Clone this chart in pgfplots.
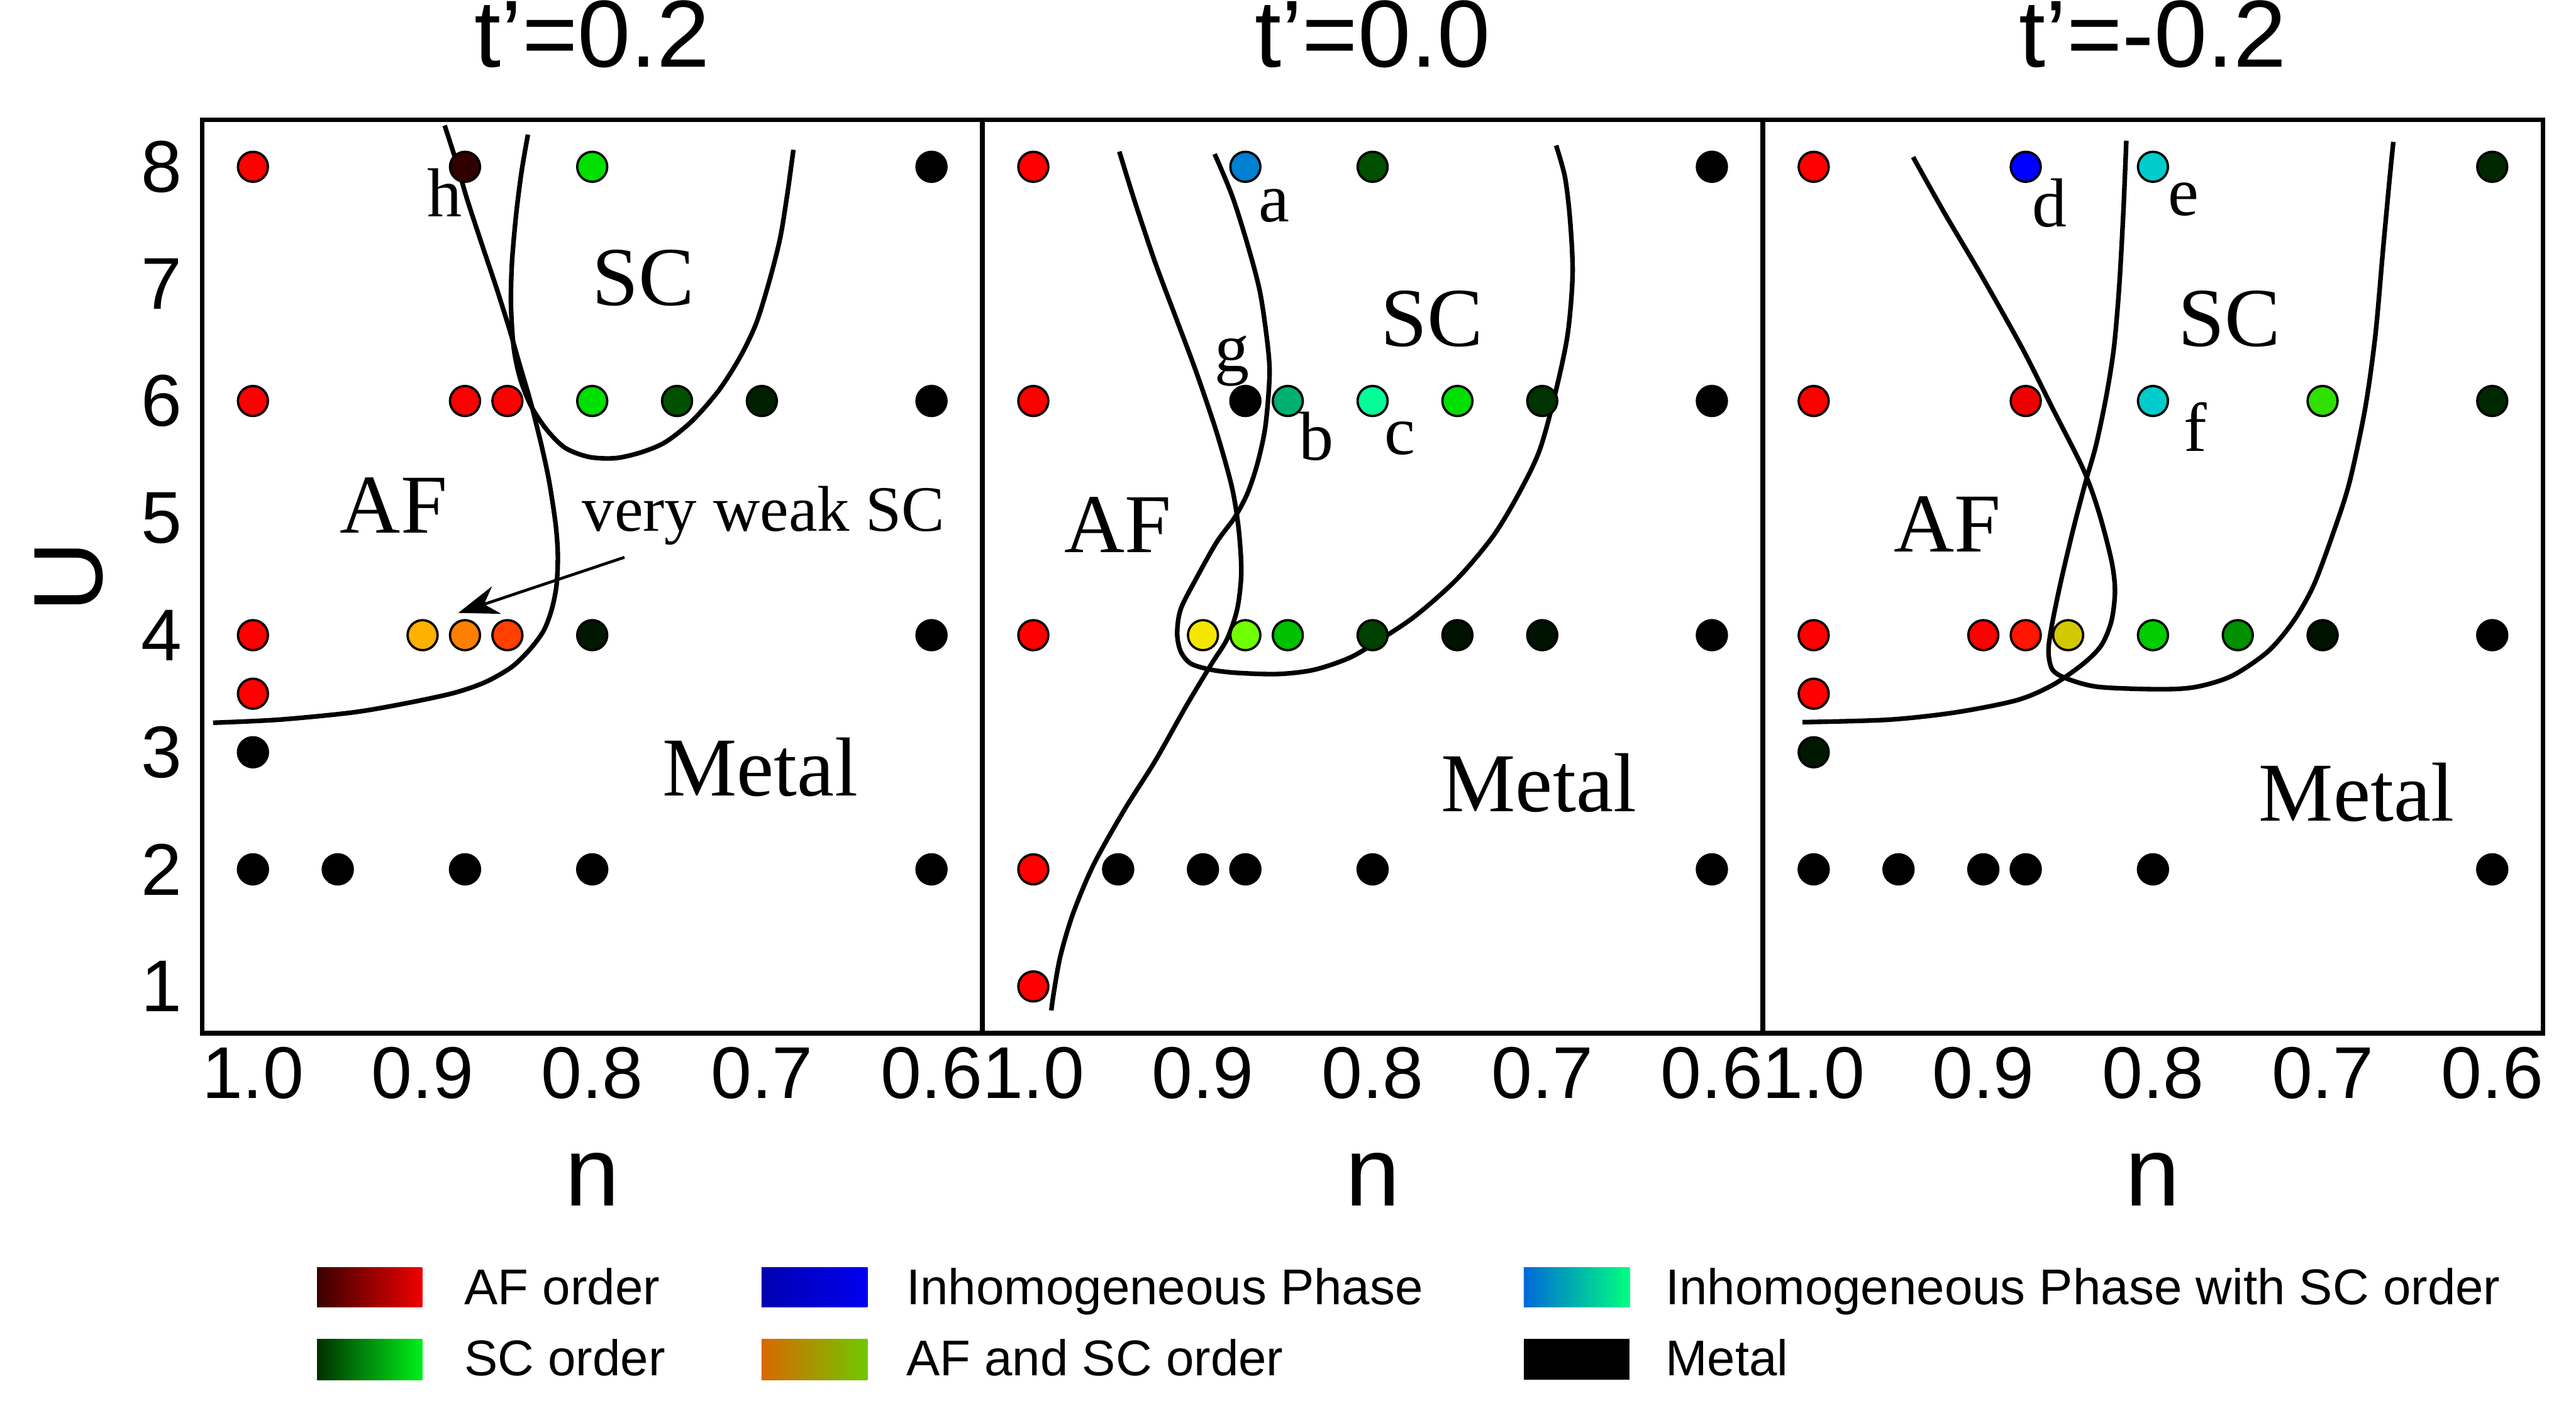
\documentclass[border=0pt]{standalone}
\usepackage{fontspec}
\setmainfont{Liberation Sans}
\newfontfamily\serifface{Liberation Serif}
\usepackage{pgfplots}
\pgfplotsset{compat=1.18}
\usetikzlibrary{arrows.meta}

% marker colours
\definecolor{cR}{HTML}{FF0000}
\definecolor{cR2}{HTML}{EE0000}
\definecolor{cRs}{HTML}{FF1500}
\definecolor{cH}{HTML}{300000}
\definecolor{cG}{HTML}{00E000}
\definecolor{cG2}{HTML}{005000}
\definecolor{cG3}{HTML}{002000}
\definecolor{cG4}{HTML}{001800}
\definecolor{cY1}{HTML}{FFB000}
\definecolor{cO1}{HTML}{FF8000}
\definecolor{cO2}{HTML}{FF4000}
\definecolor{cB1}{HTML}{0080D0}
\definecolor{cT1}{HTML}{00B070}
\definecolor{cSG}{HTML}{00FF99}
\definecolor{cY2}{HTML}{F5E600}
\definecolor{cYG}{HTML}{70FF00}
\definecolor{cG5}{HTML}{00C000}
\definecolor{cG6}{HTML}{003300}
\definecolor{cG7}{HTML}{004000}
\definecolor{cK1}{HTML}{001200}
\definecolor{cBL}{HTML}{0000FF}
\definecolor{cCY}{HTML}{00CCCC}
\definecolor{cDG}{HTML}{002800}
\definecolor{cG8}{HTML}{30E000}
\definecolor{cOL}{HTML}{D4C800}
\definecolor{cG9}{HTML}{00CC00}
\definecolor{cG10}{HTML}{009000}

\newcommand{\lbl}{\serifface\fontsize{14.5}{17}\selectfont}
\newcommand{\ltr}{\serifface\fontsize{12}{14}\selectfont}
\newcommand{\legf}{\fontsize{8.7}{10.5}\selectfont}

\pgfplotsset{
  phase/.style={
    scale only axis, width=4.75cm, height=5.56cm,
    xmin=0.57, xmax=1.03, ymin=0.6, ymax=8.4, x dir=reverse,
    xtick={0.6,0.7,0.8,0.9,1.0}, xticklabels={0.6,0.7,0.8,0.9,1.0},
    ytick={1,2,...,8},
    /pgf/number format/assume math mode=true,
    major tick length=0pt,
    axis line style={line width=0.8pt},
    ticklabel style={font=\fontsize{12.7}{15}\selectfont},
    xticklabel style={yshift=0.04cm},
    xlabel={n},
    xlabel style={font=\fontsize{17}{20}\selectfont, at={(axis description cs:0.5,-0.189)}, anchor=base},
    title style={font=\fontsize{16.5}{19}\selectfont, at={(axis description cs:0.5,1.0198)}, anchor=base},
    clip=false,
  },
  pts/.style={only marks, scatter, scatter src=explicit symbolic, mark=*, mark size=2.6pt,
    mark options={line width=0.4pt},
    scatter/classes={
      K={draw=black,fill=black}, R={draw=black,fill=cR}, R2={draw=black,fill=cR2},
      Rs={draw=black,fill=cRs}, H={draw=black,fill=cH}, G={draw=black,fill=cG},
      G2={draw=black,fill=cG2}, G3={draw=black,fill=cG3}, G4={draw=black,fill=cG4},
      Y1={draw=black,fill=cY1}, O1={draw=black,fill=cO1}, O2={draw=black,fill=cO2},
      B1={draw=black,fill=cB1}, T1={draw=black,fill=cT1}, SG={draw=black,fill=cSG},
      Y2={draw=black,fill=cY2}, YG={draw=black,fill=cYG}, G5={draw=black,fill=cG5},
      G6={draw=black,fill=cG6}, G7={draw=black,fill=cG7}, K1={draw=black,fill=cK1},
      BL={draw=black,fill=cBL}, CY={draw=black,fill=cCY}, DG={draw=black,fill=cDG},
      G8={draw=black,fill=cG8}, OL={draw=black,fill=cOL}, G9={draw=black,fill=cG9},
      G10={draw=black,fill=cG10}}},
  bnd/.style={black, line width=0.8pt, smooth, tension=0.5, no marks},
}

\begin{document}
\begin{tikzpicture}
\path[use as bounding box] (-1.23,-2.28) rectangle (14.45,6.29);

% ---------------- t'=0.2
\begin{axis}[phase, at={(0,0)}, title={t'=0.2},
  ylabel={U}, ylabel style={font=\fontsize{17}{20}\selectfont, at={(axis description cs:-0.1705,0.5)}, anchor=center}]
\addplot[pts] table[meta=c] {
x y c
1.0 8 R
0.875 8 H
0.8 8 G
0.6 8 K
1.0 6 R
0.875 6 R
0.85 6 R
0.8 6 G
0.75 6 G2
0.7 6 G3
0.6 6 K
1.0 4 R
0.9 4 Y1
0.875 4 O1
0.85 4 O2
0.8 4 G4
0.6 4 K
1.0 3.5 R
1.0 3 K
1.0 2 K
0.95 2 K
0.875 2 K
0.8 2 K
0.6 2 K
};
\addplot[bnd] coordinates {
(0.8870,8.353) (0.8801,8.042) (0.8739,7.730) (0.8645,7.314) (0.8567,6.977)
(0.8488,6.613) (0.8426,6.301) (0.8363,5.990) (0.8300,5.626) (0.8254,5.314)
(0.8216,4.951) (0.8203,4.691) (0.8210,4.431) (0.8238,4.223) (0.8285,4.042)
(0.8363,3.886) (0.8473,3.730) (0.8629,3.600) (0.8817,3.506) (0.9099,3.418)
(0.9412,3.340) (0.9850,3.278) (1.0235,3.252)};
\addplot[bnd] coordinates {
(0.8379,8.275) (0.8416,7.964) (0.8448,7.600) (0.8473,7.184) (0.8479,6.821)
(0.8463,6.457) (0.8426,6.197) (0.8363,5.964) (0.8269,5.756) (0.8160,5.600)
(0.8019,5.522) (0.7862,5.512) (0.7706,5.564) (0.7565,5.652) (0.7408,5.834)
(0.7252,6.094) (0.7127,6.379) (0.7033,6.665) (0.6955,7.029) (0.6892,7.392)
(0.6851,7.756) (0.6826,8.016) (0.6814,8.145)};
\draw[-{Stealth[length=7pt,width=5pt]}, line width=0.5pt] (axis cs:0.781,4.665) -- (axis cs:0.879,4.19);
\node[font=\ltr] at (axis cs:0.887,7.78) {h};
\node[font=\lbl] at (axis cs:0.770,7.05) {SC};
\node[font=\lbl] at (axis cs:0.917,5.11) {AF};
\node[font=\lbl] at (axis cs:0.701,2.87) {Metal};
\node[font=\serifface\fontsize{11.2}{13}\selectfont] at (axis cs:0.699,5.02) {very weak SC};
\end{axis}

% ---------------- t'=0.0
\begin{axis}[phase, at={(4.75cm,0)}, title={t'=0.0}, yticklabels={}]
\addplot[pts] table[meta=c] {
x y c
1.0 8 R
0.875 8 B1
0.8 8 G2
0.6 8 K
1.0 6 R
0.875 6 K
0.85 6 T1
0.8 6 SG
0.75 6 G
0.7 6 G6
0.6 6 K
1.0 4 R
0.9 4 Y2
0.875 4 YG
0.85 4 G5
0.8 4 G7
0.75 4 K1
0.7 4 K1
0.6 4 K
1.0 2 R
0.95 2 K
0.9 2 K
0.875 2 K
0.8 2 K
0.6 2 K
1.0 1 R
};
\addplot[bnd] coordinates {
(0.9493,8.130) (0.9402,7.704) (0.9282,7.184) (0.9161,6.717) (0.9040,6.249)
(0.8919,5.730) (0.8829,5.262) (0.8789,4.899) (0.8774,4.535) (0.8798,4.223)
(0.8859,3.964) (0.8949,3.756) (0.9100,3.392) (0.9282,2.925) (0.9463,2.509)
(0.9644,2.042) (0.9765,1.626) (0.9840,1.262) (0.9879,0.951) (0.9894,0.795)};
\addplot[bnd] coordinates {
(0.8931,8.109) (0.8829,7.756) (0.8738,7.340) (0.8663,6.925) (0.8617,6.457)
(0.8608,6.197) (0.8632,5.782) (0.8678,5.470) (0.8738,5.210) (0.8814,5.003)
(0.8919,4.795) (0.9040,4.483) (0.9131,4.223) (0.9152,4.016) (0.9131,3.860)
(0.9070,3.756) (0.8949,3.704) (0.8798,3.678) (0.8557,3.668) (0.8346,3.704)
(0.8134,3.808) (0.7953,3.964) (0.7742,4.171) (0.7500,4.483) (0.7289,4.847)
(0.7138,5.210) (0.7017,5.574) (0.6927,6.042) (0.6851,6.561) (0.6821,7.081)
(0.6836,7.548) (0.6866,7.912) (0.6918,8.182)};
\node[font=\ltr] at (axis cs:0.858,7.67) {a};
\node[font=\ltr] at (axis cs:0.883,6.34) {g};
\node[font=\ltr] at (axis cs:0.833,5.70) {b};
\node[font=\ltr] at (axis cs:0.784,5.68) {c};
\node[font=\lbl] at (axis cs:0.765,6.70) {SC};
\node[font=\lbl] at (axis cs:0.950,4.94) {AF};
\node[font=\lbl] at (axis cs:0.702,2.74) {Metal};
\end{axis}

% ---------------- t'=-0.2
\begin{axis}[phase, at={(9.5cm,0)}, title={t'=-0.2}, yticklabels={}]
\addplot[pts] table[meta=c] {
x y c
1.0 8 R
0.875 8 BL
0.8 8 CY
0.6 8 DG
1.0 6 R
0.875 6 R2
0.8 6 CY
0.7 6 G8
0.6 6 DG
1.0 4 R
0.9 4 R
0.875 4 Rs
0.85 4 OL
0.8 4 G9
0.75 4 G10
0.7 4 K1
0.6 4 K
1.0 3.5 R
1.0 3 G4
1.0 2 K
0.95 2 K
0.9 2 K
0.875 2 K
0.8 2 K
0.6 2 K
};
\addplot[bnd] coordinates {
(0.9414,8.083) (0.9227,7.600) (0.9015,7.081) (0.8773,6.457) (0.8592,5.938)
(0.8411,5.418) (0.8320,5.055) (0.8245,4.639) (0.8224,4.379) (0.8245,4.119)
(0.8305,3.912) (0.8411,3.756) (0.8592,3.574) (0.8804,3.444) (0.9166,3.340)
(0.9559,3.278) (1.0066,3.257)};
\addplot[bnd] coordinates {
(0.8157,8.223) (0.8175,7.600) (0.8199,6.977) (0.8230,6.457) (0.8275,6.042)
(0.8335,5.626) (0.8396,5.314) (0.8471,4.899) (0.8547,4.431) (0.8598,4.068)
(0.8616,3.860) (0.8592,3.704) (0.8502,3.626) (0.8320,3.558) (0.7958,3.538)
(0.7746,3.558) (0.7535,3.652) (0.7323,3.860) (0.7172,4.119) (0.7051,4.431)
(0.6931,4.899) (0.6840,5.314) (0.6749,5.938) (0.6689,6.561) (0.6644,7.288)
(0.6604,7.912) (0.6583,8.213)};
\node[font=\ltr] at (axis cs:0.861,7.69) {d};
\node[font=\ltr] at (axis cs:0.782,7.72) {e};
\node[font=\ltr] at (axis cs:0.775,5.78) {f};
\node[font=\lbl] at (axis cs:0.755,6.70) {SC};
\node[font=\lbl] at (axis cs:0.921,4.95) {AF};
\node[font=\lbl] at (axis cs:0.680,2.66) {Metal};
\end{axis}

% ---------------- legend
\shade[left color={rgb,255:red,58;green,0;blue,0}, right color={rgb,255:red,238;green,0;blue,0}] (0.70,-1.668) rectangle (1.34,-1.425);
\shade[left color={rgb,255:red,0;green,48;blue,0}, right color={rgb,255:red,0;green,240;blue,24}] (0.70,-2.11) rectangle (1.34,-1.86);
\shade[left color={rgb,255:red,0;green,0;blue,176}, right color={rgb,255:red,0;green,0;blue,240}] (3.405,-1.668) rectangle (4.05,-1.425);
\shade[left color={rgb,255:red,216;green,104;blue,0}, right color={rgb,255:red,112;green,200;blue,0}] (3.405,-2.11) rectangle (4.05,-1.86);
\shade[left color={rgb,255:red,0;green,104;blue,216}, right color={rgb,255:red,0;green,255;blue,128}] (8.045,-1.668) rectangle (8.69,-1.425);
\fill[black] (8.045,-2.11) rectangle (8.69,-1.86);
\node[anchor=base west, inner sep=0pt, font=\legf] at (1.59,-1.65) {AF order};
\node[anchor=base west, inner sep=0pt, font=\legf] at (1.59,-2.085) {SC order};
\node[anchor=base west, inner sep=0pt, font=\legf] at (4.28,-1.65) {Inhomogeneous Phase};
\node[anchor=base west, inner sep=0pt, font=\legf] at (4.28,-2.085) {AF and SC order};
\node[anchor=base west, inner sep=0pt, font=\legf] at (8.90,-1.65) {Inhomogeneous Phase with SC order};
\node[anchor=base west, inner sep=0pt, font=\legf] at (8.90,-2.085) {Metal};
\end{tikzpicture}
\end{document}
